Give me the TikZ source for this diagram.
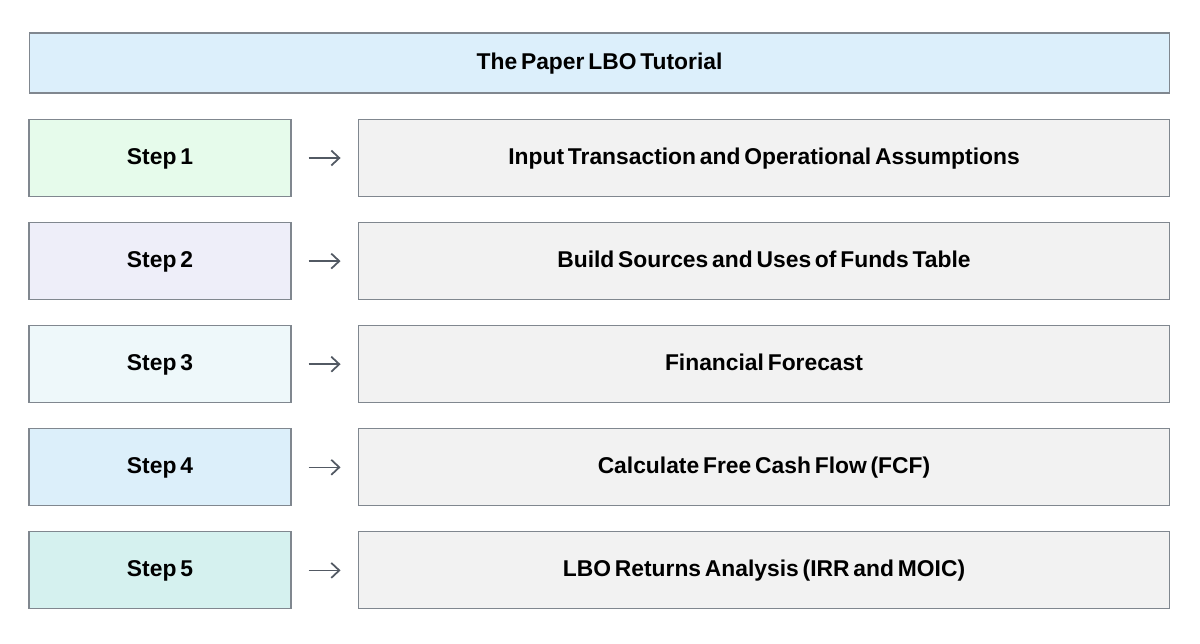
\documentclass[tikz,border=0pt]{standalone}
\usepackage{fontspec}
\setmainfont{Liberation Sans}[WordSpace=0.6]
\usetikzlibrary{positioning}
\usetikzlibrary{arrows.meta}

\definecolor{titleblue}{HTML}{DCEFFB}
\definecolor{stepgreen}{HTML}{E6FBEB}
\definecolor{steplilac}{HTML}{EEEEF9}
\definecolor{stepice}{HTML}{EEF8FA}
\definecolor{stepsky}{HTML}{DCEFFA}
\definecolor{stepteal}{HTML}{D5F1EF}
\definecolor{taskgray}{HTML}{F2F2F2}
\definecolor{edgegray}{HTML}{80878F}
\definecolor{arrowgray}{HTML}{525963}

\tikzset{
  box/.style={draw=edgegray, line width=0.6pt, inner sep=0pt,
    font=\fontsize{13}{15}\selectfont\bfseries, text=black,
    text height=0.72em, text depth=0pt},
  titlebox/.style={box, fill=titleblue, minimum width=22.82cm, minimum height=1.2cm},
  stepbox/.style={box, minimum width=5.24cm, minimum height=1.54cm},
  taskbox/.style={box, fill=taskgray, minimum width=16.24cm, minimum height=1.54cm},
  stepto/.style={-{Straight Barb[length=1.6mm,width=3mm,line width=1pt]}, arrowgray, line width=0.9pt,
    shorten <=0.34cm, shorten >=0.34cm}
}

\begin{document}
\begin{tikzpicture}[x=0.02cm,y=-0.02cm]
\useasboundingbox (0,0) rectangle (1200,643);

\node[titlebox] (title) at (599.5,63) {The Paper LBO Tutorial};

% steps and what they do
\foreach \i/\col/\txt in {
  1/stepgreen/Input Transaction and Operational Assumptions,
  2/steplilac/Build Sources and Uses of Funds Table,
  3/stepice/Financial Forecast,
  4/stepsky/Calculate Free Cash Flow (FCF),
  5/stepteal/LBO Returns Analysis (IRR and MOIC)}
{
  \node[stepbox, fill=\col] (step\i) at (160,{158+103.1*(\i-1)}) {Step \i};
  \node[taskbox] (task\i) at (764,{158+103.1*(\i-1)}) {\txt};
  \draw[stepto] (step\i) -- (task\i);
}

\end{tikzpicture}
\end{document}
